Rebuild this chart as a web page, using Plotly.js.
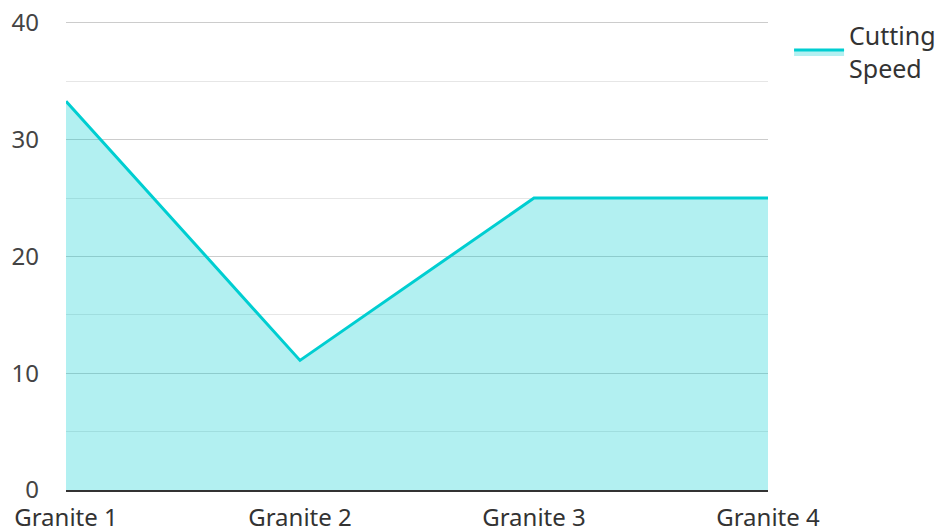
<!DOCTYPE html>
<html><head><meta charset="utf-8">
<script src="https://cdn.plot.ly/plotly-3.0.1.min.js"></script>
<style>html,body{margin:0;padding:0;background:#fff}</style>
</head><body>
<div id="chart" style="width:941px;height:531px"></div>
<script>
const categories = ["Granite 1", "Granite 2", "Granite 3", "Granite 4"];
const cuttingSpeed = [33.3, 11.1, 25, 25];
const yTicks = [0, 10, 20, 30, 40];

const trace = {
  x: categories,
  y: cuttingSpeed,
  type: 'scatter',
  mode: 'lines',
  name: 'Cutting<br>Speed',
  fill: 'tozeroy',
  fillcolor: 'rgba(0,206,209,0.3)',
  line: {color: '#00CED1', width: 3}
};

const layout = {
  width: 941, height: 531,
  margin: {l: 66, r: 173, t: 20, b: 41, autoexpand: false},
  paper_bgcolor: '#fff', plot_bgcolor: '#fff',
  font: {family: 'Noto Sans, Open Sans, sans-serif', size: 24, color: '#444'},
  showlegend: true,
  legend: {x: 1.03, y: 1.015, xanchor: 'left', yanchor: 'top', itemwidth: 50,
           font: {size: 25, color: '#333'}},
  xaxis: {
    type: 'category', range: [0, 3], showgrid: false, zeroline: false,
    showline: true, linecolor: '#333', linewidth: 2,
    ticks: '', ticklabelstandoff: 5,
    tickfont: {size: 24, color: '#333'}
  },
  yaxis: {
    range: [0, 40.25], tickvals: yTicks, ticktext: yTicks.map(String),
    showgrid: true, gridcolor: '#cccccc', gridwidth: 1,
    zeroline: false, showline: false, ticks: '', ticklabelstandoff: 26,
    tickfont: {size: 24, color: '#444'},
    minor: {dtick: 5, tick0: 0, showgrid: true, gridcolor: '#e6e6e6', gridwidth: 1}
  }
};

Plotly.newPlot('chart', [trace], layout, {displayModeBar: false, staticPlot: true});
</script>
</body></html>
